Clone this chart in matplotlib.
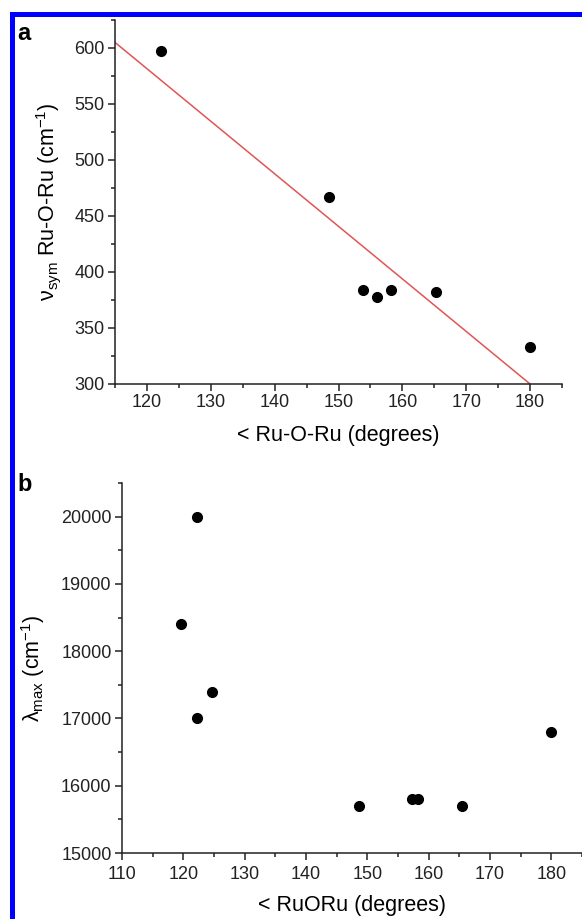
import matplotlib
matplotlib.use('Agg')
import matplotlib.pyplot as plt
from matplotlib.patches import Rectangle
from matplotlib.ticker import MultipleLocator

plt.rcParams['font.family'] = ['Liberation Sans', 'DejaVu Sans']
plt.rcParams['mathtext.fontset'] = 'custom'
plt.rcParams['mathtext.rm'] = 'Liberation Sans'
plt.rcParams['mathtext.it'] = 'Liberation Sans:italic'

# panel a: symmetric Ru-O-Ru stretch vs angle
angle_a = [122.2, 148.5, 153.8, 156.0, 158.2, 165.3, 180.0]
nu_sym = [597, 467, 384, 378, 384, 382, 333]
fit_x = [115, 180]
fit_y = [605, 300]

# panel b: lambda max vs angle
angle_b = [119.7, 122.3, 122.3, 124.7, 148.6, 157.3, 158.3, 165.4, 180.0]
lam_max = [18400, 20000, 17000, 17400, 15700, 15800, 15800, 15700, 16800]

W, H = 582, 919
fig = plt.figure(figsize=(W / 100, H / 100), dpi=100)

# blue frame (top + left)
fig.add_artist(Rectangle((10 / W, 1 - 17 / H), 1, 5 / H, transform=fig.transFigure,
                         color='#0000ff', lw=0))
fig.add_artist(Rectangle((10 / W, 0), 5 / W, 1 - 12 / H, transform=fig.transFigure,
                         color='#0000ff', lw=0))


def style(ax):
    for s in ['top', 'right']:
        ax.spines[s].set_visible(False)
    for s in ['left', 'bottom']:
        ax.spines[s].set_linewidth(1.1)
        ax.spines[s].set_color('#222222')
    ax.tick_params(which='major', direction='out', length=5, width=1.1, labelsize=13,
                   colors='#222222', pad=2.5)
    ax.tick_params(which='minor', direction='out', length=3, width=1.1, colors='#222222')


ax1 = fig.add_axes([115 / W, 1 - 384 / H, 447 / W, 364 / H])
ax1.plot(fit_x, fit_y, color='#e05555', lw=1.1, zorder=2)
ax1.plot(angle_a, nu_sym, 'o', color='black', ms=7, zorder=3, clip_on=False)
ax1.set_xlim(115, 185)
ax1.set_ylim(300, 625)
ax1.xaxis.set_major_locator(MultipleLocator(10))
ax1.xaxis.set_minor_locator(MultipleLocator(5))
ax1.yaxis.set_major_locator(MultipleLocator(50))
ax1.yaxis.set_minor_locator(MultipleLocator(25))
style(ax1)
ax1.set_xlabel('< Ru-O-Ru (degrees)', fontsize=15.5, va='center')
ax1.set_ylabel(r'$\mathrm{\nu}_{\mathregular{sym}}$ Ru-O-Ru (cm$^{\mathregular{-1}}$)',
               fontsize=15.5, va='center')
ax1.xaxis.set_label_coords(0.5, (384 - 436) / 364)
ax1.yaxis.set_label_coords((49 - 115) / 447, 0.5)

ax2 = fig.add_axes([122 / W, 1 - 853 / H, 460 / W, 370 / H])
ax2.plot(angle_b, lam_max, 'o', color='black', ms=7, zorder=3, clip_on=False)
ax2.set_xlim(110, 185)
ax2.set_ylim(15000, 20500)
ax2.xaxis.set_major_locator(MultipleLocator(10))
ax2.xaxis.set_minor_locator(MultipleLocator(5))
ax2.yaxis.set_major_locator(MultipleLocator(1000))
ax2.yaxis.set_minor_locator(MultipleLocator(500))
style(ax2)
ax2.tick_params(axis='x', which='major', pad=4.5)
ax2.set_xlabel('< RuORu (degrees)', fontsize=15.5, va='center')
ax2.set_ylabel(r'$\mathrm{\lambda}_{\mathregular{max}}$ (cm$^{\mathregular{-1}}$)',
               fontsize=15.5, va='center')
ax2.xaxis.set_label_coords(0.5, (853 - 906) / 370)
ax2.yaxis.set_label_coords((33 - 122) / 460, 0.5)

fig.text(17 / W, 1 - 22 / H, 'a', fontsize=17, fontweight='bold', va='top', ha='left')
fig.text(17 / W, 1 - 473 / H, 'b', fontsize=17, fontweight='bold', va='top', ha='left')

fig.savefig('out.png', dpi=100, facecolor='white')
